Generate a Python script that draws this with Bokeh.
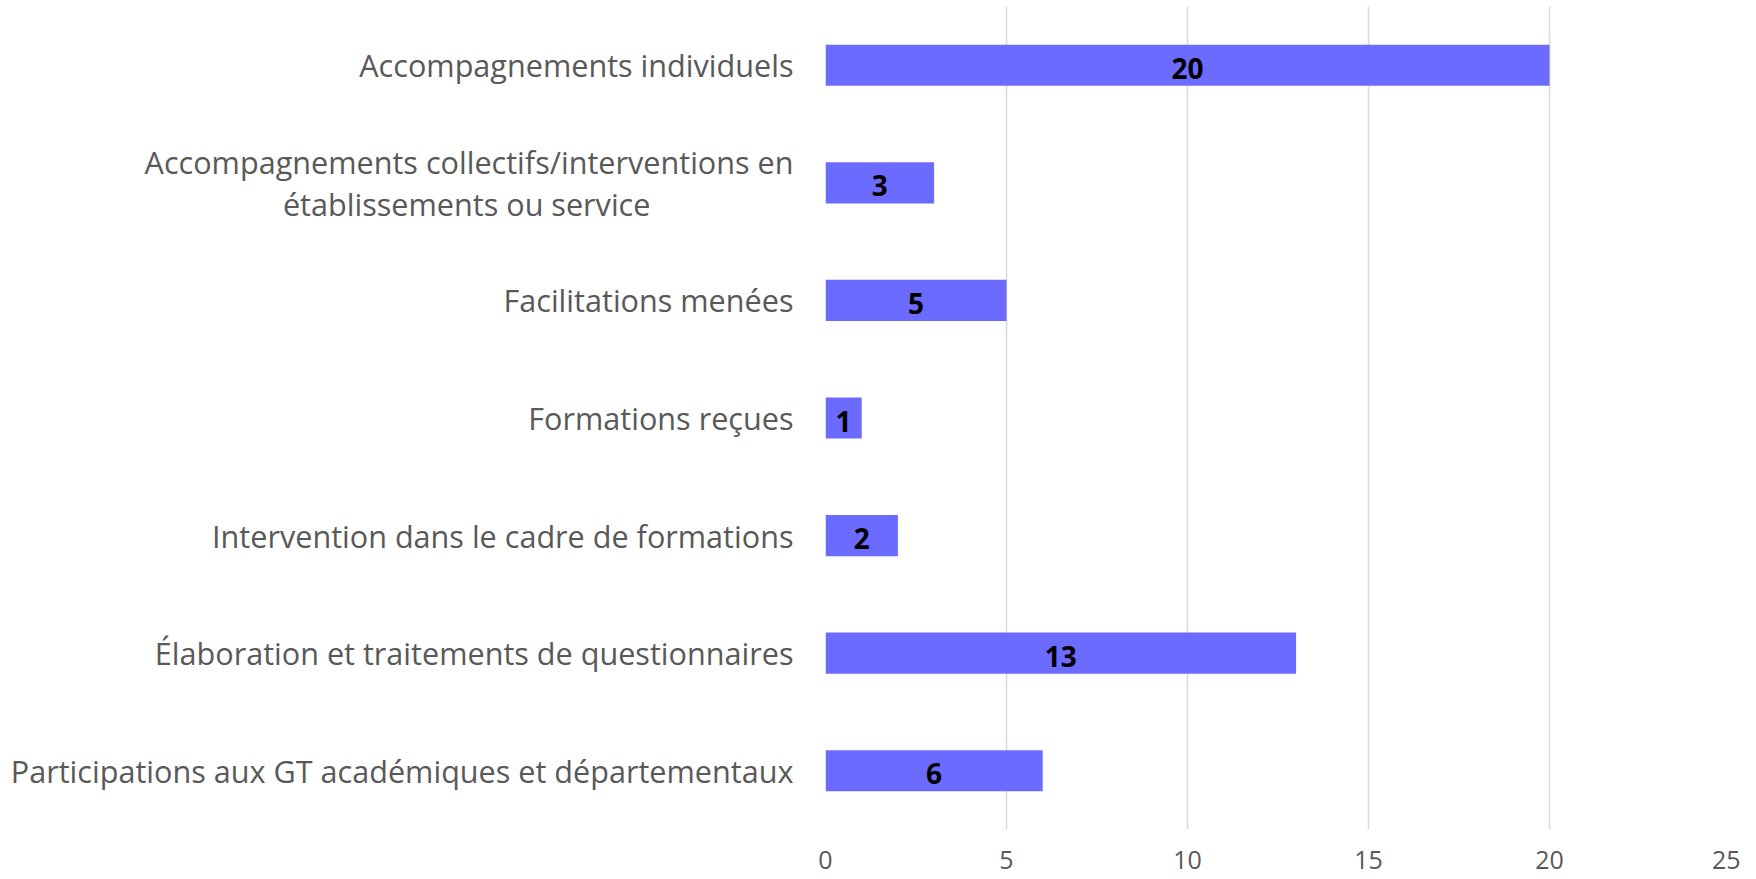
from bokeh.plotting import figure
from bokeh.models import ColumnDataSource, FactorRange, Range1d, FixedTicker
from bokeh.core.properties import value
from bokeh.embed import file_html
from bokeh.resources import INLINE

PAD = "\u00a0" * 18
categories = [
    "Accompagnements individuels",
    "Accompagnements collectifs/interventions en\nétablissements ou service" + PAD,
    "Facilitations menées",
    "Formations reçues",
    "Intervention dans le cadre de formations",
    "Élaboration et traitements de questionnaires",
    "Participations aux GT académiques et départementaux",
]
counts = [20, 3, 5, 1, 2, 13, 6]
x_ticks = [0, 5, 10, 15, 20, 25]

FONT = "Open Sans"

src = ColumnDataSource(dict(
    cat=categories,
    val=counts,
    mid=[v / 2 for v in counts],
    lbl=[str(v) for v in counts],
))

p = figure(
    width=1740, height=879,
    y_range=FactorRange(*reversed(categories)),
    x_range=Range1d(0, 25),
    output_backend="svg", toolbar_location=None,
    min_border_left=825, min_border_right=10, min_border_top=6, min_border_bottom=50,
)
p.outline_line_color = None
p.background_fill_color = "white"
p.border_fill_color = "white"

p.hbar(y="cat", right="val", left=0, height=0.35, source=src,
       fill_color="#6b6bff", line_color=None)
p.text(x="mid", y="cat", text="lbl", source=src,
       text_align="center", text_baseline="middle",
       text_font=value(FONT), text_font_style="bold",
       text_font_size="28px", text_color="black", y_offset=3)

p.xaxis.ticker = FixedTicker(ticks=x_ticks)
p.xaxis.axis_line_color = None
p.xaxis.major_tick_line_color = None
p.xaxis.minor_tick_line_color = None
p.xaxis.major_label_text_font = FONT
p.xaxis.major_label_text_font_size = "25px"
p.xaxis.major_label_text_color = "#595959"
p.xaxis.major_label_standoff = 15

p.yaxis.axis_line_color = None
p.yaxis.major_tick_line_color = None
p.yaxis.minor_tick_line_color = None
p.yaxis.major_label_text_font = FONT
p.yaxis.major_label_text_font_size = "30.6px"
p.yaxis.major_label_text_color = "#595959"
p.yaxis.major_label_text_line_height = 1.0
p.yaxis.major_label_standoff = 26

p.ygrid.grid_line_color = None
p.xgrid.grid_line_color = "#d9d9d9"
p.xgrid.grid_line_width = 1.5

open("out.html", "w").write(file_html(p, INLINE))
